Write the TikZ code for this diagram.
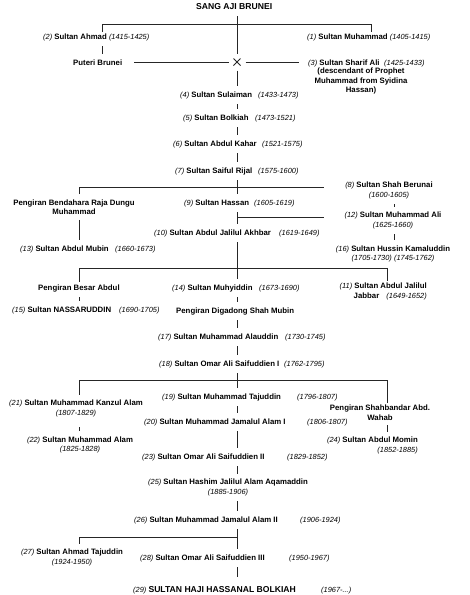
\documentclass[tikz,border=0pt]{standalone}
\usepackage{fontspec}
\setmainfont{Liberation Sans}
\usetikzlibrary{shapes.misc}
\newcommand\brn[1]{{\mdseries\itshape\fontsize{7.4}{9.5}\selectfont(#1)}}
\begin{document}
\begin{tikzpicture}[x=1pt,y=-1pt,
  lbl/.style={inner xsep=1pt,inner ysep=5pt,text height=6pt,text depth=2pt,anchor=base west,font=\fontsize{7.8}{9.5}\selectfont\bfseries},
  mlbl/.style={inner xsep=1pt,inner ysep=5pt,align=center,font=\fontsize{7.8}{9.5}\selectfont\bfseries},
  ln/.style={draw=black!85,line width=0.8pt}]
\fill[white] (0,0) rectangle (470,595);
\useasboundingbox (0,0) rectangle (470,595);
\coordinate (sx) at (237,0);
% nodes
\node[lbl,font=\fontsize{8.6}{10}\selectfont\bfseries] (top) at (195,9) {SANG AJI BRUNEI};
\node[lbl] (n2) at (42,39) {\brn{2} Sultan Ahmad \brn{1415-1425}};
\node[lbl] (n1) at (306,39) {\brn{1} Sultan Muhammad \brn{1405-1415}};
\node[lbl] (puteri) at (72,65) {Puteri Brunei};
\node[draw=black!85,line width=0.8pt,cross out,minimum size=7pt,inner sep=0pt,outer sep=0pt] (x) at (237,62) {};
\node[lbl] (n3) at (307,65) {\brn{3} Sultan Sharif Ali};
\node[lbl] (n3d) at (383,65) {\brn{1425-1433}};
\node[mlbl] (n3b) at (361,81) {(descendant of Prophet\\Muhammad from Syidina\\Hassan)};
\node[lbl] (n4) at (179,97) {\brn{4} Sultan Sulaiman};
\node[lbl] (n4d) at (257,97) {\brn{1433-1473}};
\node[lbl] (n5) at (182,120) {\brn{5} Sultan Bolkiah};
\node[lbl] (n5d) at (254,120) {\brn{1473-1521}};
\node[lbl] (n6) at (172,146) {\brn{6} Sultan Abdul Kahar};
\node[lbl] (n6d) at (261,146) {\brn{1521-1575}};
\node[lbl] (n7) at (174,173) {\brn{7} Sultan Saiful Rijal};
\node[lbl] (n7d) at (257,173) {\brn{1575-1600}};
\node[mlbl] (pbrdm) at (74,207) {Pengiran Bendahara Raja Dungu\\Muhammad};
\node[lbl] (n9) at (183,205) {\brn{9} Sultan Hassan};
\node[lbl] (n9d) at (253,205) {\brn{1605-1619}};
\node[mlbl] (n8) at (389,190.5) {\brn{8} Sultan Shah Berunai\\\brn{1600-1605}};
\node[mlbl] (n12) at (393,220.5) {\brn{12} Sultan Muhammad Ali\\\brn{1625-1660}};
\node[lbl] (n10) at (153,235) {\brn{10} Sultan Abdul Jalilul Akhbar};
\node[lbl] (n10d) at (278,235) {\brn{1619-1649}};
\node[lbl] (n13) at (19,251) {\brn{13} Sultan Abdul Mubin};
\node[lbl] (n13d) at (114,251) {\brn{1660-1673}};
\node[mlbl] (n16) at (393,254) {\brn{16} Sultan Hussin Kamaluddin\\\brn{1705-1730} \brn{1745-1762}};
\node[lbl] (pba) at (37,290) {Pengiran Besar Abdul};
\node[lbl] (n14) at (171,290) {\brn{14} Sultan Muhyiddin};
\node[lbl] (n14d) at (258,290) {\brn{1673-1690}};
\node[mlbl,align=right,anchor=east] (n11) at (428,291.5) {\brn{11} Sultan Abdul Jalilul\\Jabbar\hspace{5pt} \brn{1649-1652}};
\node[lbl] (n15) at (11,312) {\brn{15} Sultan NASSARUDDIN};
\node[lbl] (n15d) at (118,312) {\brn{1690-1705}};
\node[lbl] (pdsm) at (175,313) {Pengiran Digadong Shah Mubin};
\node[lbl] (n17) at (157,339) {\brn{17} Sultan Muhammad Alauddin};
\node[lbl] (n17d) at (284,339) {\brn{1730-1745}};
\node[lbl] (n18) at (158,366) {\brn{18} Sultan Omar Ali Saifuddien I};
\node[lbl] (n18d) at (283,366) {\brn{1762-1795}};
\node[mlbl] (n21) at (76,408.5) {\brn{21} Sultan Muhammad Kanzul Alam\\\brn{1807-1829}};
\node[lbl] (n19) at (161,399) {\brn{19} Sultan Muhammad Tajuddin};
\node[lbl] (n19d) at (296,399) {\brn{1796-1807}};
\node[mlbl] (psaw) at (380,412.5) {Pengiran Shahbandar Abd.\\Wahab};
\node[lbl] (n20) at (143,424) {\brn{20} Sultan Muhammad Jamalul Alam I};
\node[lbl] (n20d) at (306,424) {\brn{1806-1807}};
\node[mlbl] (n22) at (80,445) {\brn{22} Sultan Muhammad Alam\\\brn{1825-1828}};
\node[mlbl,align=right,anchor=east] (n24) at (419,445.5) {\brn{24} Sultan Abdul Momin\\\brn{1852-1885}};
\node[lbl] (n23) at (141,459) {\brn{23} Sultan Omar Ali Saifuddien II};
\node[lbl] (n23d) at (286,459) {\brn{1829-1852}};
\node[mlbl] (n25) at (228,487.5) {\brn{25} Sultan Hashim Jalilul Alam Aqamaddin\\\brn{1885-1906}};
\node[lbl] (n26) at (133,522) {\brn{26} Sultan Muhammad Jamalul Alam II};
\node[lbl] (n26d) at (299,522) {\brn{1906-1924}};
\node[mlbl] (n27) at (72,557.5) {\brn{27} Sultan Ahmad Tajuddin\\\brn{1924-1950}};
\node[lbl] (n28) at (139,560) {\brn{28} Sultan Omar Ali Saifuddien III};
\node[lbl] (n28d) at (288,560) {\brn{1950-1967}};
\node[lbl] (n29) at (132,592) {\brn{29} {\fontsize{8.6}{10}\selectfont SULTAN HAJI HASSANAL BOLKIAH}};
\node[lbl] (n29d) at (320,592) {\brn{1967-...}};
% coordinates
\coordinate (b1l) at (102,24); \coordinate (b1r) at (371,24);
\coordinate (b2l) at (79,187); \coordinate (e8) at (324,187);
\coordinate (j12) at (237,217); \coordinate (e12) at (324,217);
\coordinate (b3l) at (79,268); \coordinate (b3r) at (387,268);
\coordinate (b4l) at (79,380); \coordinate (b4r) at (387,380);
\coordinate (b5l) at (79,537); \coordinate (b5c) at (237,537);
\coordinate (rx) at (394,0);
% connectors
\draw[ln,shorten >=5pt] (top.south -| sx) -- (x.north);
\draw[ln,shorten <=-4pt,shorten >=-4pt] (n2.north -| b1l) -- (b1l) -- (b1r) -- (n1.north -| b1r);
\draw[ln] (n2.south -| b1l) -- (puteri.north -| b1l);
\draw[ln,shorten <=5pt,shorten >=11pt] (x.west) -- (x.west -| puteri.east);
\draw[ln,shorten <=5pt,shorten >=8pt] (x.east) -- (x.east -| n3.west);
\draw[ln,shorten <=5pt] (x.south) -- (n4.north -| sx);
\draw[ln] (n4.south -| sx) -- (n5.north -| sx);
\draw[ln] (n5.south -| sx) -- (n6.north -| sx);
\draw[ln] (n6.south -| sx) -- (n7.north -| sx);
\draw[ln] (n7.south -| sx) -- (n9.north -| sx);
\draw[ln] (pbrdm.north -| b2l) -- (b2l) -- (e8);
\draw[ln] (pbrdm.south -| b2l) -- (n13.north -| b2l);
\draw[ln] (n9.south -| sx) -- (n10.north -| sx);
\draw[ln] (j12) -- (e12);
\draw[ln] (n8.south -| rx) -- (n12.north -| rx);
\draw[ln] (n12.south -| rx) -- (n16.north -| rx);
\draw[ln] (n10.south -| sx) -- (n14.north -| sx);
\draw[ln,shorten <=-3pt,shorten >=-3pt] (pba.north -| b3l) -- (b3l) -- (b3r) -- (n11.north -| b3r);
\draw[ln] (pba.south -| b3l) -- (n15.north -| b3l);
\draw[ln] (n14.south -| sx) -- (pdsm.north -| sx);
\draw[ln] (pdsm.south -| sx) -- (n17.north -| sx);
\draw[ln] (n17.south -| sx) -- (n18.north -| sx);
\draw[ln] (n18.south -| sx) -- (n19.north -| sx);
\draw[ln,shorten >=-3pt] (n21.north -| b4l) -- (b4l) -- (b4r) -- (psaw.north -| b4r);
\draw[ln] (n19.south -| sx) -- (n20.north -| sx);
\draw[ln,shorten <=5pt] (n21.south -| b4l) -- (n22.north -| b4l);
\draw[ln] (psaw.south -| b4r) -- (n24.north -| b4r);
\draw[ln] (n20.south -| sx) -- (n23.north -| sx);
\draw[ln] (n23.south -| sx) -- (n25.north -| sx);
\draw[ln] (n25.south -| sx) -- (n26.north -| sx);
\draw[ln] (n26.south -| sx) -- (n28.north -| sx);
\draw[ln] (b5c) -- (b5l) -- (n27.north -| b5l);
\draw[ln,shorten >=4pt] (n28.south -| sx) -- (n29.north -| sx);
\end{tikzpicture}
\end{document}
